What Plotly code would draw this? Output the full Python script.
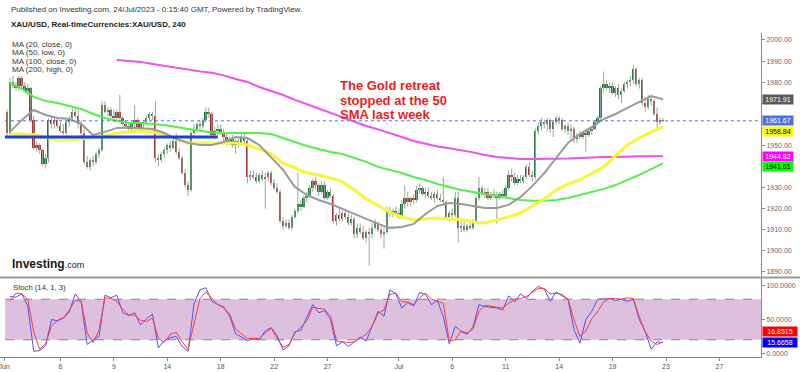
import plotly.graph_objects as go

# ---------------- data (XAU/USD, 4h bars, Jun 1 - Jul 21 2023) ----------------
opens = [1966,1956,1980,1978,1977,1982,1978,1976,1977,1962,
         1949,1950,1948,1941,1944,1962,1960,1962,1959,1957,
         1956,1961,1963,1966,1964,1960,1956,1942,1940,1943,
         1942,1946,1948,1969,1966,1967,1964,1963,1966,1963,
         1960,1959,1958,1960,1962,1958,1960,1961,1963,1965,
         1964,1944,1943,1946,1948,1950,1949,1952,1947,1944,
         1937,1931,1929,1956,1958,1960,1959,1962,1966,1965,
         1955,1957,1958,1956,1954,1951,1953,1950,1952,1951,
         1954,1952,1935,1936,1935,1933,1936,1934,1935,1937,
         1932,1930,1928,1914,1912,1913,1911,1916,1919,1922,
         1921,1925,1926,1930,1933,1931,1928,1931,1925,1928,
         1926,1914,1917,1915,1918,1916,1913,1915,1908,1911,
         1909,1906,1909,1908,1911,1913,1910,1908,1909,1919,
         1918,1919,1918,1916,1922,1925,1923,1925,1924,1929,
         1930,1927,1928,1926,1925,1927,1925,1924,1923,1916,
         1918,1917,1925,1911,1912,1910,1912,1911,1914,1925,
         1930,1927,1928,1925,1927,1926,1925,1927,1926,1930,
         1936,1935,1932,1934,1933,1935,1940,1936,1935,1957,
         1959,1961,1960,1962,1958,1961,1963,1962,1958,1959,
         1957,1958,1953,1955,1954,1956,1955,1957,1958,1961,
         1963,1977,1979,1977,1978,1975,1977,1974,1976,1979,
         1980,1981,1986,1979,1981,1970,1968,1972,1971,1965,
         1961,1962]
highs = [1967,1982,1983,1980,1983,1983,1980,1979,1978,1964,
         1952,1951,1949,1946,1963,1964,1963,1963,1961,1960,
         1962,1964,1968,1968,1967,1962,1958,1945,1944,1945,
         1947,1949,1971,1971,1968,1968,1967,1967,1974,1964,
         1962,1961,1961,1969,1963,1961,1962,1964,1966,1966,
         1971,1946,1947,1949,1951,1952,1953,1956,1949,1945,
         1939,1933,1957,1960,1961,1962,1963,1968,1968,1966,
         1959,1960,1960,1958,1956,1954,1955,1953,1954,1955,
         1956,1953,1938,1938,1937,1937,1938,1937,1938,1938,
         1934,1932,1929,1916,1915,1915,1917,1920,1937,1924,
         1926,1928,1931,1934,1935,1932,1933,1933,1929,1930,
         1927,1918,1920,1919,1920,1918,1917,1916,1913,1913,
         1912,1910,1911,1913,1915,1914,1912,1911,1921,1921,
         1920,1921,1920,1924,1931,1928,1926,1927,1931,1932,
         1931,1930,1930,1928,1928,1929,1927,1935,1924,1919,
         1920,1928,1928,1914,1914,1913,1914,1915,1926,1935,
         1931,1930,1930,1928,1929,1928,1928,1929,1931,1938,
         1939,1937,1936,1936,1936,1941,1942,1938,1958,1961,
         1963,1962,1963,1963,1962,1964,1964,1963,1960,1961,
         1960,1959,1956,1957,1957,1958,1958,1959,1962,1964,
         1978,1985,1981,1980,1980,1978,1979,1977,1980,1981,
         1983,1988,1987,1982,1982,1973,1974,1974,1972,1968,
         1963,1963]
lows = [1954,1955,1977,1976,1976,1977,1975,1974,1961,1948,
        1947,1946,1940,1939,1942,1958,1958,1958,1956,1955,
        1955,1959,1962,1963,1958,1954,1941,1939,1938,1940,
        1941,1944,1947,1965,1964,1963,1962,1962,1962,1959,
        1958,1957,1956,1956,1957,1956,1958,1960,1962,1962,
        1942,1940,1942,1944,1946,1947,1948,1946,1943,1936,
        1930,1926,1928,1954,1956,1957,1958,1961,1963,1954,
        1953,1955,1955,1952,1950,1950,1949,1946,1949,1950,
        1951,1932,1933,1934,1932,1932,1933,1920,1933,1931,
        1929,1927,1913,1910,1911,1910,1910,1915,1918,1919,
        1920,1923,1925,1928,1929,1926,1927,1924,1924,1925,
        1913,1912,1914,1914,1915,1912,1912,1906,1906,1908,
        1905,1904,1893,1906,1910,1909,1906,1901,1908,1916,
        1916,1917,1915,1915,1920,1921,1921,1922,1923,1927,
        1926,1925,1925,1924,1923,1924,1923,1922,1915,1914,
        1915,1916,1904,1909,1909,1909,1910,1910,1913,1924,
        1926,1925,1924,1924,1925,1913,1924,1925,1925,1929,
        1933,1931,1931,1932,1932,1934,1935,1933,1934,1955,
        1957,1958,1957,1956,1954,1960,1960,1957,1956,1955,
        1952,1951,1951,1953,1953,1947,1954,1955,1957,1960,
        1962,1975,1976,1975,1974,1973,1972,1970,1975,1977,
        1978,1979,1978,1977,1969,1966,1967,1969,1964,1957,
        1960,1961]
closes = [1956,1980,1978,1977,1982,1978,1976,1977,1962,1949,
          1950,1948,1941,1944,1962,1960,1962,1959,1957,1956,
          1961,1963,1966,1964,1960,1956,1942,1940,1943,1942,
          1946,1948,1969,1966,1967,1964,1963,1966,1963,1960,
          1959,1958,1960,1962,1958,1960,1961,1963,1965,1964,
          1944,1943,1946,1948,1950,1949,1952,1947,1944,1937,
          1931,1929,1956,1958,1960,1959,1962,1966,1965,1955,
          1957,1958,1956,1954,1951,1953,1950,1952,1951,1954,
          1952,1935,1936,1935,1933,1936,1934,1935,1937,1932,
          1930,1928,1914,1912,1913,1911,1916,1919,1922,1921,
          1925,1926,1930,1933,1931,1928,1931,1925,1928,1926,
          1914,1917,1915,1918,1916,1913,1915,1908,1911,1909,
          1906,1909,1908,1911,1913,1910,1908,1909,1919,1918,
          1919,1918,1916,1922,1925,1923,1925,1924,1929,1930,
          1927,1928,1926,1925,1927,1925,1924,1923,1916,1918,
          1917,1925,1911,1912,1910,1912,1911,1914,1925,1930,
          1927,1928,1925,1927,1926,1925,1927,1926,1930,1936,
          1935,1932,1934,1933,1935,1940,1936,1935,1957,1959,
          1961,1960,1962,1958,1961,1963,1962,1958,1959,1957,
          1958,1953,1955,1954,1956,1955,1957,1958,1961,1963,
          1977,1979,1977,1978,1975,1977,1974,1976,1979,1980,
          1981,1986,1979,1981,1970,1968,1972,1971,1965,1961,
          1962,1961.67]

# moving averages, one reading every 4 bars (bars 1, 5, 9, ... 221)
ma20_close = [1956.4,1962.1,1966.8,1964.4,1963.0,1962.5,1960.2,1955.0,1956.4,1958.3,
              1958.5,1958.3,1957.8,1955.9,1953.1,1951.2,1950.2,1950.2,1951.6,1954.0,
              1953.5,1950.2,1944.5,1938.4,1930.3,1926.5,1924.1,1922.2,1919.9,1917.5,
              1915.1,1912.8,1910.9,1911.3,1912.8,1917.5,1921.3,1922.7,1922.2,1921.3,
              1920.3,1920.3,1921.8,1925.6,1930.8,1936.9,1944.0,1951.2,1955.4,1958.7,
              1962.5,1964.9,1967.8,1970.6,1973.4,1971.91]
ma50_low = [1955.4,1955.4,1955.0,1954.0,1952.6,1952.6,1953.1,1953.5,1954.5,1955.9,
            1956.4,1956.9,1956.4,1955.0,1953.1,1951.2,1951.2,1951.2,1951.2,1951.2,
            1950.2,1948.3,1945.9,1941.7,1939.3,1936.9,1936.0,1934.6,1932.7,1928.9,
            1924.6,1921.3,1918.4,1916.1,1914.7,1915.1,1915.6,1915.1,1914.7,1913.7,
            1913.2,1914.7,1916.1,1918.0,1921.3,1924.6,1928.9,1931.7,1933.6,1936.9,
            1939.8,1945.0,1950.2,1953.5,1956.4,1958.84]
ma100_close = [1979.6,1976.8,1973.0,1971.1,1970.1,1968.7,1967.3,1964.9,1963.0,1961.6,
               1960.6,1960.6,1960.2,1959.7,1958.7,1957.8,1956.9,1956.1,1955.9,1955.9,
               1955.9,1955.9,1955.4,1953.5,1951.6,1949.7,1948.3,1946.9,1945.9,1944.0,
               1942.2,1939.8,1938.4,1936.9,1935.0,1933.6,1931.7,1930.3,1928.9,1927.9,
               1927.0,1926.0,1925.1,1924.1,1923.7,1923.7,1924.1,1925.1,1926.5,1927.9,
               1929.4,1931.2,1933.6,1936.0,1938.8,1941.61]
ma200_high = [None,None,None,None,None,None,None,None,None,
              1990.5,1990.0,1989.6,1988.6,1987.7,1986.7,1985.8,1985.1,1984.4,1983.2,
              1981.5,1980.1,1977.7,1975.8,1973.9,1971.6,1969.7,1967.5,1965.4,1963.3,
              1961.1,1959.2,1957.6,1955.9,1954.0,1952.1,1950.7,1949.5,1948.6,1947.8,
              1946.7,1945.5,1944.5,1944.0,1943.6,1943.6,1943.6,1943.6,1943.8,1944.0,
              1944.3,1944.5,1944.5,1944.8,1944.8,1944.8,1944.82]

# stochastic (14,1,3), one reading every 2 bars (bars 1, 3, ... 221)
stoch_k = [84,83,88,70,3,4,11,50,48,52,
           61,88,76,13,20,25,86,82,86,60,
           56,60,42,51,58,8,19,23,25,10,
           3,73,94,97,77,72,69,55,29,24,
           19,21,20,33,38,26,5,11,32,34,
           52,72,60,63,50,11,17,10,17,24,
           18,40,62,55,94,88,67,75,70,90,
           87,72,78,54,14,40,32,28,39,72,
           69,68,67,64,85,76,88,81,92,99,
           95,77,91,85,80,35,15,50,62,80,
           80,81,78,80,77,80,50,32,6,17,
           15.6658]
stoch_d = [77,89,88,80,32,6,14,40,49,53,
           64,78,77,30,16,34,82,81,77,65,
           57,56,49,47,52,22,16,28,31,17,
           6,44,81,91,82,72,67,58,36,29,
           22,22,22,30,37,22,9,13,30,39,
           48,68,66,65,55,18,17,16,17,22,
           28,40,59,64,87,89,76,76,72,82,
           89,80,77,74,18,20,33,30,36,62,
           71,70,68,67,74,80,81,84,90,96,
           96,88,89,87,80,50,25,33,51,62,
           76,81,81,80,82,81,54,32,18,13,
           16.8515]

tick_bars = [-1.0, 18, 36, 54, 72, 90, 108, 132, 150, 168, 186, 204, 222, 240]
tick_text = ["Jun", "6", "9", "14", "18", "22", "27", "Jul", "6", "11", "14", "19", "23", "27"]
price_ticks = [1890, 1900, 1910, 1920, 1930, 1940, 1950, 1960, 1970, 1980, 1990, 2000]
price_ticks_hidden = [1940, 1960, 1970]   # covered by the value labels in the original
stoch_ticks = [0, 50, 100]
support_level = 1954.0
support_span = [-0.7, 71]
last_price = 1961.67
note_lines = ["The Gold retreat", "stopped at the 50", "SMA last week"]

n = len(closes)
assert len(opens) == n and len(highs) == n and len(lows) == n, (len(opens), len(highs), len(lows), n)
bars = list(range(n))
ma_bars = list(range(1, n, 4))
st_bars = list(range(1, n, 2))
assert len(ma20_close) == len(ma_bars) == len(ma50_low) == len(ma100_close) == len(ma200_high)
assert len(stoch_k) == len(st_bars) == len(stoch_d)

X_RANGE = [-2.36, 254.0]
FONT = "Liberation Sans, Arial, sans-serif"
UP, DOWN = "#1c7b3c", "#a8302e"

fig = go.Figure()

# wicks
wx, wy = [], []
for i in bars:
    wx += [i, i, None]
    wy += [lows[i], highs[i], None]
fig.add_trace(go.Scatter(x=wx, y=wy, mode="lines", line=dict(color="#95aa9a", width=1),
                         hoverinfo="skip", yaxis="y"))
# bodies
base = [min(o, c) for o, c in zip(opens, closes)]
height = [max(abs(c - o), 0.35) for o, c in zip(opens, closes)]
colors = [UP if c >= o else DOWN for o, c in zip(opens, closes)]
fig.add_trace(go.Bar(x=bars, y=height, base=base, width=0.62,
                     marker=dict(color=colors, line=dict(width=0)), yaxis="y"))

# MAs
fig.add_trace(go.Scatter(x=ma_bars, y=ma200_high, mode="lines", line=dict(color="#ee4fee", width=2), yaxis="y"))
fig.add_trace(go.Scatter(x=ma_bars, y=ma100_close, mode="lines", line=dict(color="#55ee4a", width=2), yaxis="y"))
fig.add_trace(go.Scatter(x=ma_bars, y=ma50_low, mode="lines", line=dict(color="#f6f63a", width=3), yaxis="y"))
fig.add_trace(go.Scatter(x=ma_bars, y=ma20_close, mode="lines", line=dict(color="#9a9a9a", width=2), yaxis="y"))

# support line and last price line
fig.add_trace(go.Scatter(x=support_span, y=[support_level, support_level], mode="lines",
                         line=dict(color="#1f3fd6", width=3), yaxis="y"))
fig.add_trace(go.Scatter(x=[support_span[0], X_RANGE[1]], y=[last_price, last_price], mode="lines",
                         line=dict(color="#4a72e0", width=1, dash="dot"), yaxis="y"))

# stochastic
fig.add_trace(go.Scatter(x=st_bars, y=stoch_k, mode="lines", line=dict(color="#5050ff", width=1), yaxis="y2"))
fig.add_trace(go.Scatter(x=st_bars, y=stoch_d, mode="lines", line=dict(color="#ff3b3b", width=1), yaxis="y2"))

shapes = [
    dict(type="rect", xref="paper", yref="y2", x0=0.0066, x1=1, y0=20, y1=80,
         fillcolor="#dcc0de", line=dict(width=0), layer="below"),
    dict(type="line", xref="paper", yref="y2", x0=0.0066, x1=1, y0=80, y1=80,
         line=dict(color="#8d7f8d", width=1, dash="dash")),
    dict(type="line", xref="paper", yref="y2", x0=0.0066, x1=1, y0=20, y1=20,
         line=dict(color="#8d7f8d", width=1, dash="dash")),
    dict(type="line", xref="paper", yref="paper", x0=0, x1=1.06, y0=0.2454, y1=0.2454,
         line=dict(color="#999999", width=2)),
]

def py(px):
    return (357 - px) / 324.0

def pxx(px):
    return px / 761.0

ann = []
ann.append(dict(x=pxx(9), y=py(10), xref="paper", yref="paper", xanchor="left", yanchor="middle",
                text="Published on Investing.com, 24/Jul/2023 - 0:15:40 GMT, Powered by TradingView.",
                font=dict(family=FONT, size=8, color="#333"), showarrow=False))
ann.append(dict(x=pxx(9), y=py(24), xref="paper", yref="paper", xanchor="left", yanchor="middle",
                text="<b>XAU/USD, Real-timeCurrencies:XAU/USD, 240</b>",
                font=dict(family=FONT, size=8, color="#222"), showarrow=False))
for t, yy in [("MA (20, close, 0)", 44), ("MA (50, low, 0)", 52.5),
              ("MA (100, close, 0)", 61), ("MA (200, high, 0)", 69.5)]:
    ann.append(dict(x=pxx(10), y=py(yy), xref="paper", yref="paper", xanchor="left", yanchor="middle",
                    text=t, font=dict(family=FONT, size=8, color="#333"), showarrow=False))
ann.append(dict(x=pxx(11), y=py(287), xref="paper", yref="paper", xanchor="left", yanchor="middle",
                text="Stoch (14, 1, 3)", font=dict(family=FONT, size=7.7, color="#333"), showarrow=False))
ann.append(dict(x=pxx(10), y=py(264), xref="paper", yref="paper", xanchor="left", yanchor="middle",
                text="<b>Investing</b><span style='font-size:9px'>.com</span>",
                font=dict(family=FONT, size=12, color="#1a1a1a"), showarrow=False))
for t, yy in zip(note_lines, [86, 100, 114]):
    ann.append(dict(x=pxx(338), y=py(yy), xref="paper", yref="paper", xanchor="left", yanchor="middle",
                    text=f"<b>{t}</b>", font=dict(family=FONT, size=13, color="#ee1c1c"), showarrow=False))

# right-axis value labels
for val, bg, fg, shift in [(1971.91, "#5a5a5a", "white", 0),
                           (last_price, "#4a72e0", "white", 0),
                           (1958.84, "#ffff00", "black", -5),
                           (1944.82, "#ff00ff", "white", 0),
                           (1941.61, "#00ff00", "black", -3)]:
    ann.append(dict(x=1, y=val, xref="paper", yref="y", xanchor="left", yanchor="middle", xshift=1, yshift=shift,
                    text=f"{val:.2f}", bgcolor=bg, borderpad=0, width=30, height=9,
                    font=dict(family=FONT, size=7, color=fg), showarrow=False))
for val, bg, shift in [(stoch_d[-1], "#ff0000", 10), (stoch_k[-1], "#0000ff", 0)]:
    ann.append(dict(x=1, y=val, xref="paper", yref="y2", xanchor="left", yanchor="middle", xshift=1, yshift=shift,
                    text=f"{val:.4f}", bgcolor=bg, borderpad=0, width=34, height=9,
                    font=dict(family=FONT, size=7, color="white"), showarrow=False))

fig.update_layout(
    width=800, height=372, margin=dict(l=0, r=39, t=33, b=15, autoexpand=False),
    plot_bgcolor="white", paper_bgcolor="white", showlegend=False,
    barmode="overlay", bargap=0,
    shapes=shapes, annotations=ann,
    xaxis=dict(range=X_RANGE, tickvals=tick_bars, ticktext=tick_text, showgrid=False, zeroline=False,
               showline=True, linecolor="#888", linewidth=1, ticks="outside", ticklen=3, tickcolor="#888",
               ticklabeloverflow="allow", automargin=False,
               tickfont=dict(family=FONT, size=7, color="#555"), anchor="y2"),
    yaxis=dict(domain=[0.2469, 1], range=[1887.6, 2003.3], side="right", anchor="x",
               tickvals=price_ticks, automargin=False,
               ticktext=["" if v in price_ticks_hidden else f"{v:.2f}" for v in price_ticks],
               showgrid=False, zeroline=False, showline=True, linecolor="#888", linewidth=1,
               ticks="outside", ticklen=3, tickcolor="#888",
               tickfont=dict(family=FONT, size=7, color="#666")),
    yaxis2=dict(domain=[0, 0.2438], range=[-5.5, 111.4], side="right", anchor="x",
                tickvals=stoch_ticks, ticktext=[f"{v:.4f}" for v in stoch_ticks], automargin=False,
                showgrid=False, zeroline=False, showline=True, linecolor="#888", linewidth=1,
                ticks="outside", ticklen=3, tickcolor="#888",
                tickfont=dict(family=FONT, size=7, color="#666")),
)

fig.write_html("out.html", config={"displayModeBar": False},
               post_script="document.body.style.margin='0px';document.body.style.padding='0px';")
